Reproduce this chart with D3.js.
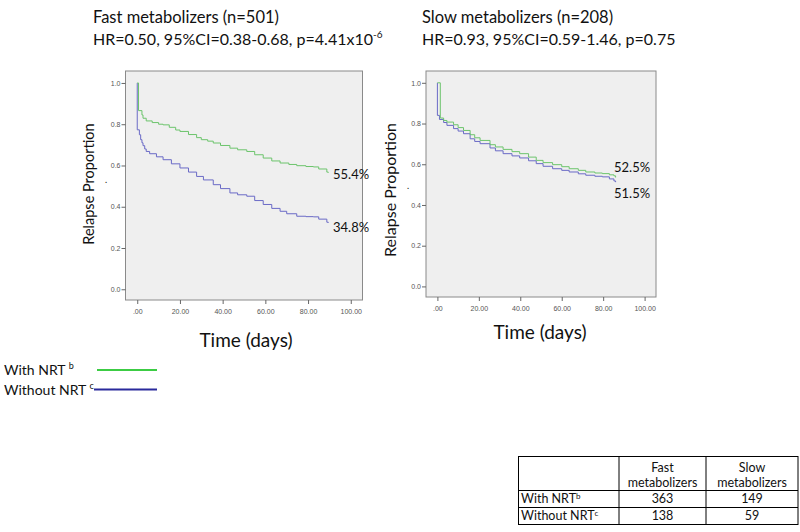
<!DOCTYPE html>
<html>
<meta charset="utf-8">
<style>
  body { margin: 0; background: #fff; }
  svg { display: block; }
  text { font-family: Lato, "Open Sans", sans-serif; fill: #111; }
  .tick text { font-family: "Liberation Sans", Arial, sans-serif; font-size: 7px; fill: #555; }
</style>
<body>
<svg width="800" height="532"></svg>
<script src="https://cdn.jsdelivr.net/npm/d3@7"></script>
<script>
// Kaplan-Meier steps: [days, proportion]
const fastWithNRT = [[0,1.0],[0.6,0.866],[2.2,0.845],[2.7,0.829],[4.2,0.816],[7,0.808],[10,0.800],[12.1,0.797],
  [15,0.785],[18,0.772],[20,0.765],[24,0.750],[27.8,0.735],[30,0.725],[33,0.718],[35.6,0.709],[39,0.697],
  [43.4,0.684],[47,0.676],[51.3,0.668],[55,0.652],[59,0.636],[63,0.622],[66.9,0.612],[71,0.605],[74.7,0.599],
  [79,0.595],[82.5,0.593],[85,0.583],[88.8,0.568],[89.5,0.565]];
const fastWithoutNRT = [[0,0.773],[1,0.749],[1.6,0.725],[2.2,0.710],[2.7,0.696],[3.5,0.680],[4.2,0.668],[5.8,0.657],
  [9,0.642],[12.1,0.628],[16,0.608],[20,0.588],[24,0.568],[27.8,0.547],[31,0.530],[35.6,0.507],[39,0.488],
  [43.4,0.467],[47,0.458],[51.3,0.451],[55,0.430],[59,0.411],[63,0.392],[66.9,0.378],[70,0.366],[74.7,0.354],
  [79,0.352],[82.5,0.351],[85,0.340],[88.8,0.325],[89.5,0.322]];
const slowWithNRT = [[0,1.0],[1.4,0.827],[3,0.815],[4.6,0.807],[7.8,0.794],[10,0.780],[12.6,0.766],[15.8,0.745],
  [18,0.730],[20.6,0.717],[25.4,0.696],[28,0.685],[31.7,0.673],[36,0.662],[39.7,0.652],[44,0.635],[47.7,0.619],
  [51,0.608],[55.6,0.598],[60,0.588],[63.6,0.578],[68,0.570],[71.6,0.562],[76,0.557],[79.6,0.554],[83,0.548],
  [85.2,0.543],[86,0.535]];
const slowWithoutNRT = [[0,0.84],[1,0.820],[3,0.805],[4.6,0.791],[7.8,0.775],[10,0.763],[12.6,0.750],[15.8,0.725],
  [18,0.712],[20.6,0.701],[25.4,0.680],[28,0.666],[31.7,0.652],[36,0.641],[39.7,0.631],[44,0.617],[47.7,0.603],
  [51,0.590],[55.6,0.578],[60,0.570],[63.6,0.562],[68,0.553],[71.6,0.546],[76,0.541],[79.6,0.538],[83,0.528],
  [85.2,0.518],[86,0.512]];

const xTicks = [0, 20, 40, 60, 80, 100];
const yTicks = [0, 0.2, 0.4, 0.6, 0.8, 1.0];

const titles = [
  ["Fast metabolizers (n=501)", "HR=0.50, 95%CI=0.38-0.68, p=4.41x10", "-6"],
  ["Slow metabolizers (n=208)", "HR=0.93, 95%CI=0.59-1.46, p=0.75", ""]
];
const endLabels = [["55.4%", "34.8%"], ["52.5%", "51.5%"]];

const legendLabels = ["With NRT", "Without NRT"];
const legendSups = ["b", "c"];

const tableCols = [["Fast", "metabolizers"], ["Slow", "metabolizers"]];
const tableCounts = [[363, 149], [138, 59]];

const lineGreen = "#6cc46c", lineBlue = "#6a6ac6";
const legendGreen = "#3ccc44", legendBlue = "#2a2a9c";

const svg = d3.select("svg");

// panel boxes (pixel frames of the SPSS plots)
const panels = [
  {x0: 125.5, x1: 362.5, y0: 71, y1: 300, series: [fastWithNRT, fastWithoutNRT],
   titleX: 93, labelX: 333, labelY: [179, 232], ylabX: 94, ylabY: 184, ylabSize: 14.5, timeY: 347, timeX: 246},
  {x0: 426, x1: 656, y0: 71, y1: 297, series: [slowWithNRT, slowWithoutNRT],
   titleX: 422, labelX: 614, labelY: [172, 198], ylabX: 396, ylabY: 190, ylabSize: 16, timeY: 339, timeX: 540}
];

panels.forEach((p, i) => {
  const x = d3.scaleLinear().domain([-5.5, 105.5]).range([p.x0, p.x1]);
  const y = d3.scaleLinear().domain([-0.052, 1.058]).range([p.y1, p.y0]);

  // title lines
  const t = svg.append("g");
  t.append("text").attr("x", p.titleX).attr("y", 23).attr("font-size", 16.5).text(titles[i][0]);
  const l2 = t.append("text").attr("x", p.titleX).attr("y", 45).attr("font-size", 16).text(titles[i][1]);
  if (titles[i][2]) l2.append("tspan").attr("dy", -7).attr("font-size", 10).text(titles[i][2]);

  svg.append("rect")
    .attr("x", p.x0).attr("y", p.y0)
    .attr("width", p.x1 - p.x0).attr("height", p.y1 - p.y0)
    .attr("fill", "#efefef").attr("stroke", "#8a8a8a").attr("stroke-width", 1);

  svg.append("g").attr("transform", `translate(0,${p.y1})`)
    .call(d3.axisBottom(x).tickValues(xTicks).tickSize(4).tickFormat(d => d === 0 ? ".00" : d3.format(".2f")(d)))
    .call(g => g.select(".domain").remove())
    .call(g => g.selectAll(".tick line").attr("stroke", "#666"))
    .call(g => g.selectAll(".tick text").attr("dy", "0.95em"));

  svg.append("g").attr("transform", `translate(${p.x0},0)`)
    .call(d3.axisLeft(y).tickValues(yTicks).tickSize(4).tickFormat(d3.format(".1f")))
    .call(g => g.select(".domain").remove())
    .call(g => g.selectAll(".tick line").attr("stroke", "#666"))
    .call(g => g.selectAll(".tick text").attr("x", -5));

  const line = d3.line().x(d => x(d[0])).y(d => y(d[1])).curve(d3.curveStepAfter);
  // blue drawn first, green on top
  [1, 0].forEach(k => {
    const pts = p.series[k][0][1] < 1 ? [[0, 1]].concat(p.series[k]) : p.series[k];
    svg.append("path").datum(pts)
      .attr("fill", "none")
      .attr("stroke", k === 0 ? lineGreen : lineBlue)
      .attr("stroke-width", 1)
      .attr("d", line);
  });

  endLabels[i].forEach((s, k) => {
    svg.append("text").attr("x", p.labelX).attr("y", p.labelY[k]).attr("font-size", 13).text(s);
  });

  svg.append("text")
    .attr("transform", `translate(${p.ylabX},${p.ylabY}) rotate(-90)`)
    .attr("text-anchor", "middle").attr("font-size", p.ylabSize)
    .text("Relapse Proportion");
  svg.append("text").attr("x", p.ylabX + 11).attr("y", p.ylabY - 1).attr("font-size", 9).attr("fill", "#666").text(".");

  svg.append("text").attr("x", p.timeX).attr("y", p.timeY)
    .attr("text-anchor", "middle").attr("font-size", 19).text("Time (days)");
});

// legend
const leg = svg.append("g");
legendLabels.forEach((s, k) => {
  const yy = 375 + k * 19.5;
  const tx = leg.append("text").attr("x", 4).attr("y", yy).attr("font-size", 14).text(s + " ");
  tx.append("tspan").attr("dy", -6).attr("font-size", 9).text(legendSups[k]);
  leg.append("line").attr("x1", k === 0 ? 97 : 94).attr("x2", 157)
    .attr("y1", yy - 5).attr("y2", yy - 5)
    .attr("stroke", k === 0 ? legendGreen : legendBlue).attr("stroke-width", 2);
});

// table of group sizes
const colX = [518.5, 619, 706, 798];
const rowY = [456.5, 490.5, 507.5, 524.5];
const tbl = svg.append("g");
tbl.append("rect").attr("x", colX[0]).attr("y", rowY[0])
  .attr("width", colX[3] - colX[0]).attr("height", rowY[3] - rowY[0])
  .attr("fill", "none").attr("stroke", "#000");
[1, 2].forEach(c => tbl.append("line").attr("x1", colX[c]).attr("x2", colX[c])
  .attr("y1", rowY[0]).attr("y2", rowY[3]).attr("stroke", "#000"));
[1, 2].forEach(r => tbl.append("line").attr("x1", colX[0]).attr("x2", colX[3])
  .attr("y1", rowY[r]).attr("y2", rowY[r]).attr("stroke", "#000"));
tableCols.forEach((lines, c) => {
  const cx = (colX[c + 1] + colX[c + 2]) / 2;
  lines.forEach((s, j) => tbl.append("text").attr("x", cx).attr("y", 472 + j * 15)
    .attr("text-anchor", "middle").attr("font-size", 12.5).text(s));
});
legendLabels.forEach((s, r) => {
  const yy = rowY[r + 1] + 12;
  const tx = tbl.append("text").attr("x", 521).attr("y", yy).attr("font-size", 12.5).text(s);
  tx.append("tspan").attr("dy", -4).attr("font-size", 8).text(legendSups[r]);
  tableCounts[r].forEach((v, c) => {
    tbl.append("text").attr("x", (colX[c + 1] + colX[c + 2]) / 2).attr("y", yy)
      .attr("text-anchor", "middle").attr("font-size", 12.5).text(v);
  });
});
</script>
</body>
</html>
